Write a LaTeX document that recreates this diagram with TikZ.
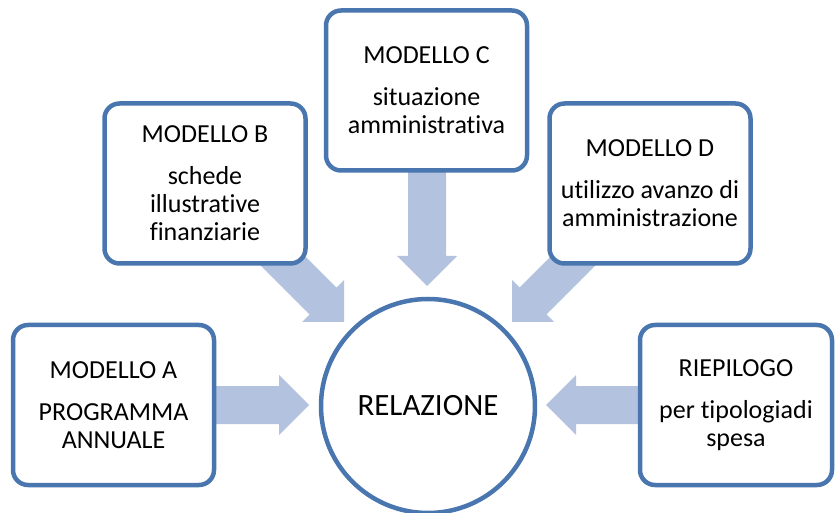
\documentclass[tikz,border=0pt]{standalone}
\usepackage{fontspec}
\setmainfont[Ligatures=NoCommon]{Carlito}
\definecolor{boxline}{HTML}{4A76B0}
\definecolor{arrowfill}{HTML}{B2C2DF}
\begin{document}
\begin{tikzpicture}[x=1pt,y=-1pt,
  box/.style={draw=boxline, line width=4.5pt, rounded corners=15pt, fill=white,
    minimum width=201pt, minimum height=160pt, align=center, inner sep=0pt,
    font=\fontsize{26}{28}\selectfont},
  blockarrow/.style={fill=arrowfill, draw=none}]
\useasboundingbox (0,0) rectangle (836,513);
% block arrows (connectors)
\coordinate (tipA) at (309,405);
\coordinate (tipR) at (546,405);
\coordinate (tipC) at (427,286);
\coordinate (tipB) at (344,322);
\coordinate (tipD) at (512,322);
\fill[blockarrow] (tipA) -- (279,375) -- (279,386) -- (205,386) -- (205,424) -- (279,424) -- (279,435) -- cycle;
\fill[blockarrow] (tipR) -- (576,375) -- (576,386) -- (650,386) -- (650,424) -- (576,424) -- (576,435) -- cycle;
\fill[blockarrow] (tipC) -- (397,256) -- (408,256) -- (408,165) -- (446,165) -- (446,256) -- (457,256) -- cycle;
\fill[blockarrow] (tipB) -- (302,322) -- (309.6,314.4) -- (260.1,264.9) -- (286.9,238.1) -- (336.4,287.6) -- (344,280) -- cycle;
\fill[blockarrow] (tipD) -- (554,322) -- (546.4,314.4) -- (595.9,264.9) -- (569.1,238.1) -- (519.6,287.6) -- (512,280) -- cycle;
% boxes
\node[box] (a) at (113.5,405) {MODELLO A\\[14pt]PROGRAMMA\\ANNUALE};
\node[box] (b) at (205,183.5) {MODELLO B\\[14pt]schede\\illustrative\\finanziarie};
\node[box] (c) at (426.5,90.5) {MODELLO C\\[14pt]situazione\\amministrativa};
\node[box] (d) at (650,183.5) {MODELLO D\\[14pt]utilizzo avanzo di\\amministrazione};
\node[box, minimum width=192pt] (r) at (736,405) {RIEPILOGO\\[14pt]per tipologiadi\\spesa};
\node[circle, draw=boxline, line width=4.5pt, fill=white, minimum size=214pt, inner sep=0pt,
  font=\fontsize{31}{34}\selectfont] (rel) at (428,406) {RELAZIONE};
\end{tikzpicture}
\end{document}
